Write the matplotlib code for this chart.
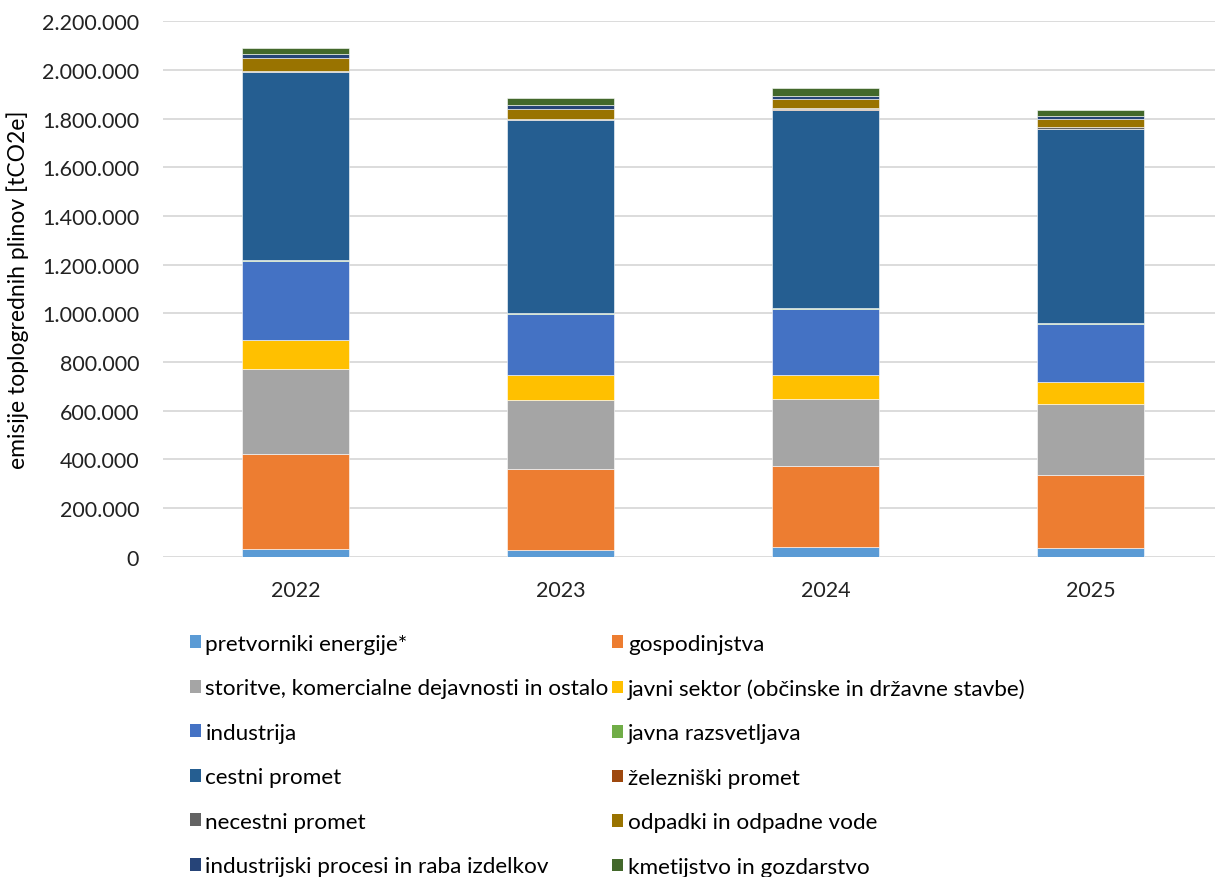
import matplotlib
matplotlib.use("Agg")
import matplotlib.pyplot as plt
from matplotlib.patches import Patch
from matplotlib.ticker import FuncFormatter, MultipleLocator
import numpy as np

plt.rcParams["font.family"] = ["Lato", "DejaVu Sans"]

years = ["2022", "2023", "2024", "2025"]

sectors = [
    "pretvorniki energije*",
    "gospodinjstva",
    "storitve, komercialne dejavnosti in ostalo",
    "javni sektor (občinske in državne stavbe)",
    "industrija",
    "javna razsvetljava",
    "cestni promet",
    "železniški promet",
    "necestni promet",
    "odpadki in odpadne vode",
    "industrijski procesi in raba izdelkov",
    "kmetijstvo in gozdarstvo",
]

# emissions per sector [tCO2e], one value per year
pretvorniki = [33000, 29000, 41000, 36000]
gospodinjstva = [389000, 330000, 331000, 300000]
storitve = [348000, 284000, 276000, 292000]
javni_sektor = [122000, 104000, 98000, 92000]
industrija = [325000, 250000, 272000, 235000]
razsvetljava = [4000, 5000, 5000, 5000]
cestni = [771000, 793000, 815000, 799000]
zelezniski = [1000, 1000, 2000, 1000]
necestni = [5000, 4000, 6000, 5000]
odpadki = [51000, 41000, 37000, 36000]
ind_procesi = [18000, 15000, 11000, 11000]
kmetijstvo = [22000, 29000, 31000, 26000]

series = [pretvorniki, gospodinjstva, storitve, javni_sektor, industrija,
          razsvetljava, cestni, zelezniski, necestni, odpadki, ind_procesi,
          kmetijstvo]

colors = ["#5B9BD5", "#ED7D31", "#A5A5A5", "#FFC000", "#4472C4", "#70AD47",
          "#255E91", "#9E480E", "#636363", "#997300", "#264478", "#43682B"]

fig = plt.figure(figsize=(12.15, 8.78), dpi=100)
ax = fig.add_axes([0.134, 0.3648, 0.866, 0.6096])

x = np.arange(len(years))
bottom = np.zeros(len(years))
for vals, col in zip(series, colors):
    ax.bar(x, vals, width=0.405, bottom=bottom, color=col,
           edgecolor="white", linewidth=0.4, zorder=3)
    bottom += np.array(vals)

ax.set_xlim(-0.5, 3.47)
ax.set_ylim(0, 2200000)
ax.yaxis.set_major_locator(MultipleLocator(200000))
ax.yaxis.set_major_formatter(FuncFormatter(lambda v, p: f"{int(v):,}".replace(",", ".")))
ax.grid(axis="y", color="#d9d9d9", linewidth=1.3, zorder=0)
ax.set_axisbelow(True)
for s in ["top", "right", "left", "bottom"]:
    ax.spines[s].set_visible(False)
ax.tick_params(axis="both", length=0, labelsize=15.5, colors="#222222")
ax.tick_params(axis="x", pad=17)
ax.tick_params(axis="y", pad=17)
ax.set_xticks(x)
ax.set_xticklabels(years)
ax.set_ylabel("emisije toplogrednih plinov [tCO2e]", fontsize=16.5, labelpad=9)

# legend filled row by row: reorder for matplotlib's column-first layout
handles = [Patch(facecolor=c, label=l) for c, l in zip(colors, sectors)]
order = list(range(0, 12, 2)) + list(range(1, 12, 2))
fig.legend([handles[i] for i in order], [sectors[i] for i in order],
           ncol=2, loc="upper left", bbox_to_anchor=(0.156, 0.277),
           frameon=False, fontsize=16.2, handlelength=0.5, handleheight=0.5,
           handletextpad=0.2, columnspacing=0.15, labelspacing=1.09,
           borderaxespad=0, borderpad=0)

fig.savefig("out.png", dpi=100)
